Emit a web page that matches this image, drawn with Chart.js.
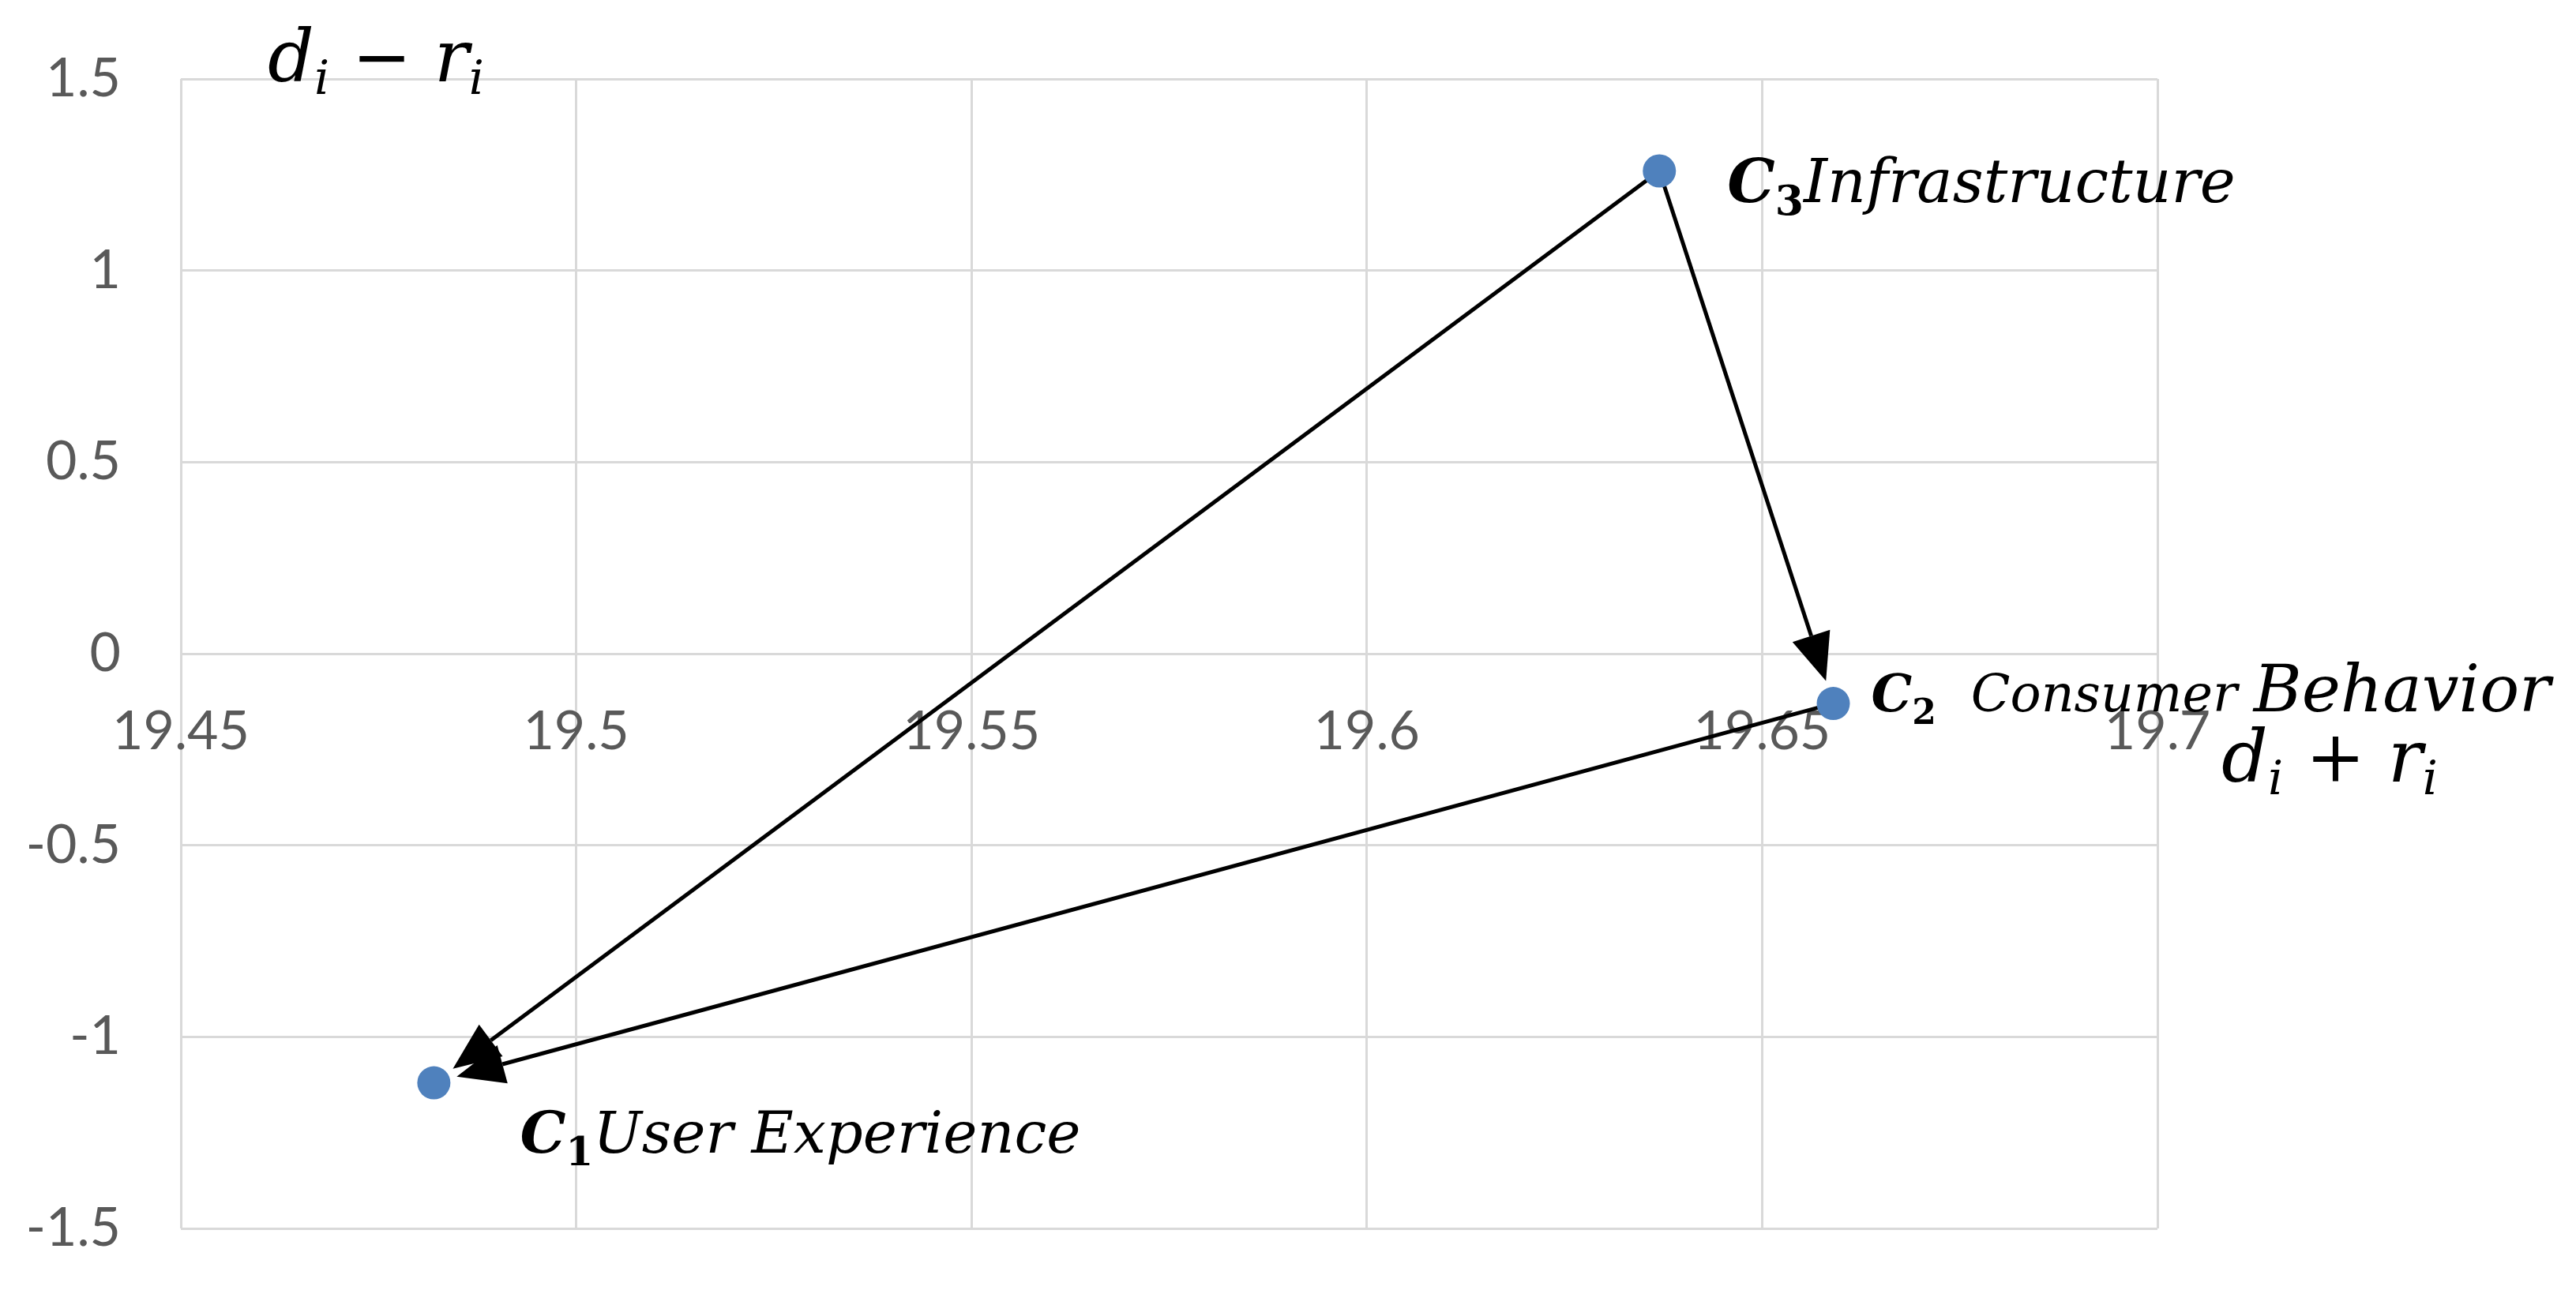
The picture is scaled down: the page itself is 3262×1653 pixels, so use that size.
<!DOCTYPE html>
<html>
<head>
<meta charset="utf-8">
<script src="https://cdn.jsdelivr.net/npm/chart.js@4.4.1/dist/chart.umd.min.js"></script>
<style>
  html, body { margin: 0; padding: 0; background: #fff; }
  #wrap { width: 3262px; height: 1653px; }
</style>
</head>
<body>
<div id="wrap"><canvas id="chart" width="3262" height="1653"></canvas></div>
<script>
// d+r (x) and d-r (y) for each criterion
const criteriaCodes = ['1', '2', '3'];
const criteriaNames = ['User Experience', 'Consumer Behavior', 'Infrastructure'];
const xValues = [19.482, 19.659, 19.637];
const yValues = [-1.12, -0.13, 1.26];

// causal arrows, index of source -> index of target
const arrowFrom = [2, 2, 1];
const arrowTo = [0, 1, 0];

const xTicks = [19.45, 19.5, 19.55, 19.6, 19.65, 19.7];
const yTicks = [-1.5, -1, -0.5, 0, 0.5, 1, 1.5];

// label placement relative to the point (pixels), and font sizes per word
const labelStyles = [
  { dx: 109, dy: 88, gap: 0, sizes: [73] },
  { dx: 48, dy: 10, gap: 44, sizes: [65, 83] },
  { dx: 86, dy: 40, gap: 0, sizes: [76] },
];

const SERIF = '"DejaVu Serif", "Liberation Serif", serif';
const gridColor = '#d9d9d9';

function drawParts(ctx, x, y, parts) {
  ctx.textBaseline = 'alphabetic';
  ctx.textAlign = 'left';
  for (const p of parts) {
    ctx.font = p.font;
    ctx.fillText(p.text, x, y + (p.dy || 0));
    x += ctx.measureText(p.text).width + (p.after || 0);
  }
  return x;
}

function drawArrow(ctx, x1, y1, x2, y2) {
  const ang = Math.atan2(y2 - y1, x2 - x1);
  const headLen = 60, headW = 25;
  const bx = x2 - headLen * Math.cos(ang), by = y2 - headLen * Math.sin(ang);
  ctx.beginPath();
  ctx.moveTo(x1, y1);
  ctx.lineTo(bx, by);
  ctx.stroke();
  ctx.beginPath();
  ctx.moveTo(x2, y2);
  ctx.lineTo(bx + headW * Math.sin(ang), by - headW * Math.cos(ang));
  ctx.lineTo(bx - headW * Math.sin(ang), by + headW * Math.cos(ang));
  ctx.closePath();
  ctx.fill();
}

const arrowsPlugin = {
  id: 'arrows',
  beforeDatasetsDraw(chart) {
    const { ctx, scales: { x, y } } = chart;
    ctx.save();
    ctx.strokeStyle = '#000';
    ctx.fillStyle = '#000';
    ctx.lineWidth = 5;
    arrowFrom.forEach((from, i) => {
      const to = arrowTo[i];
      const x1 = x.getPixelForValue(xValues[from]), y1 = y.getPixelForValue(yValues[from]);
      const x2 = x.getPixelForValue(xValues[to]), y2 = y.getPixelForValue(yValues[to]);
      const len = Math.hypot(x2 - x1, y2 - y1);
      const ux = (x2 - x1) / len, uy = (y2 - y1) / len;
      drawArrow(ctx, x1 + ux * 20, y1 + uy * 20, x2 - ux * 30, y2 - uy * 30);
    });
    ctx.restore();
  }
};

const labelsPlugin = {
  id: 'labels',
  afterDatasetsDraw(chart) {
    const { ctx, chartArea, scales: { x, y } } = chart;
    ctx.save();
    ctx.fillStyle = '#000';

    criteriaNames.forEach((name, i) => {
      const st = labelStyles[i];
      const px = x.getPixelForValue(xValues[i]) + st.dx;
      const py = y.getPixelForValue(yValues[i]) + st.dy;
      const parts = [
        { text: 'C', font: 'italic bold ' + st.sizes[0] + 'px ' + SERIF },
        { text: criteriaCodes[i], font: 'bold ' + Math.round(st.sizes[0] * 0.68) + 'px ' + SERIF, dy: 16, after: st.gap },
      ];
      name.split(' ').forEach((w, k, arr) => {
        const size = st.sizes[Math.min(k, st.sizes.length - 1)];
        parts.push({ text: w + (k < arr.length - 1 ? ' ' : ''), font: 'italic ' + size + 'px ' + SERIF });
      });
      drawParts(ctx, px, py, parts);
    });

    // axis titles
    const sub = 'italic 60px ' + SERIF, main = 'italic 92px ' + SERIF, op = '90px ' + SERIF;
    drawParts(ctx, chartArea.left + 110, chartArea.top + 3, [
      { text: 'd', font: main }, { text: 'i', font: sub, dy: 16 },
      { text: ' \u2212 ', font: op }, { text: 'r', font: main }, { text: 'i', font: sub, dy: 16 }
    ]);
    drawParts(ctx, chartArea.right + 81, y.getPixelForValue(0) + 162, [
      { text: 'd', font: main }, { text: 'i', font: sub, dy: 16 },
      { text: ' + ', font: op }, { text: 'r', font: main }, { text: 'i', font: sub, dy: 16 }
    ]);
    ctx.restore();
  }
};

new Chart(document.getElementById('chart'), {
  type: 'scatter',
  data: {
    datasets: [{
      data: xValues.map((v, i) => ({ x: v, y: yValues[i] })),
      backgroundColor: '#4f81bd',
      borderWidth: 0,
      pointRadius: 21,
      showLine: false,
    }]
  },
  options: {
    responsive: false,
    animation: false,
    layout: { padding: { top: 100, bottom: 97, right: 530, left: 0 } },
    scales: {
      x: {
        type: 'linear',
        position: { y: 0 },
        min: 19.45,
        max: 19.7,
        afterBuildTicks: axis => { axis.ticks = xTicks.map(v => ({ value: v })); },
        grid: { color: gridColor, lineWidth: 3, drawTicks: false },
        border: { display: true, color: gridColor, width: 3 },
        ticks: {
          padding: 58,
          color: '#595959',
          font: { family: 'Lato, "Open Sans", sans-serif', size: 68 },
          callback: v => String(+v.toFixed(2)),
        },
      },
      y: {
        type: 'linear',
        min: -1.5,
        max: 1.5,
        afterBuildTicks: axis => { axis.ticks = yTicks.map(v => ({ value: v })); },
        afterFit: axis => {
          axis.width = 229;
          // the label padding would otherwise push the plot area inwards
          axis.paddingTop = 0;
          axis.paddingBottom = 0;
        },
        grid: { color: gridColor, lineWidth: 3, drawTicks: false },
        border: { display: false },
        ticks: {
          padding: 76,
          color: '#595959',
          font: { family: 'Lato, "Open Sans", sans-serif', size: 68 },
          callback: v => String(+v.toFixed(2)),
        },
      },
    },
    plugins: {
      legend: { display: false },
      tooltip: { enabled: false },
    },
  },
  plugins: [arrowsPlugin, labelsPlugin],
});
</script>
</body>
</html>
